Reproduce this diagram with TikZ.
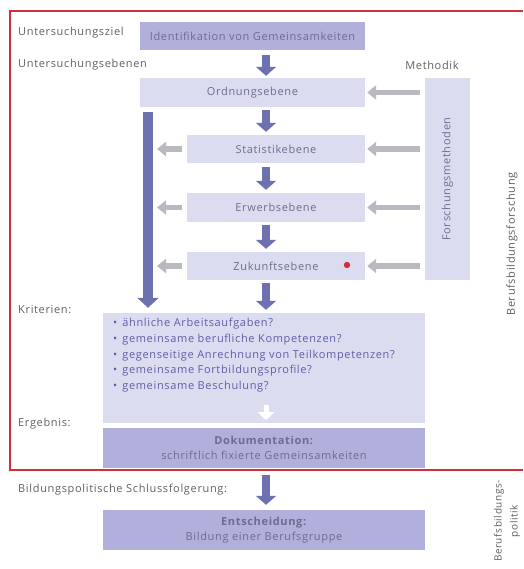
\documentclass[tikz,border=0pt]{standalone}
\usepackage{fontspec}
\setmainfont{Open Sans}[LetterSpace=6]
\usetikzlibrary{arrows.meta,calc}
\definecolor{boxlight}{HTML}{DCDCF0}
\definecolor{boxdark}{HTML}{B1AFDC}
\definecolor{boxtext}{HTML}{6E6C90}
\definecolor{crittext}{HTML}{5E5EA8}
\definecolor{labeltext}{HTML}{606060}
\definecolor{bluearr}{HTML}{6E71B0}
\definecolor{grayarr}{HTML}{B9B9C2}
\definecolor{framered}{HTML}{D0303A}
\begin{document}
\begin{tikzpicture}[x=1pt,y=-1pt,
  every node/.style={inner sep=0pt, font=\fontsize{11}{12}\selectfont},
  lightbox/.style={fill=boxlight, text=boxtext, minimum width=#1},
  lightbox/.default=225pt,
  darkbox/.style={fill=boxdark, text=boxtext},
  lbl/.style={anchor=west, text=labeltext},
  bluear/.style={draw=bluearr, line width=8pt, -{Triangle[width=20pt,length=9pt]}},
  grayar/.style={draw=grayarr, line width=5.5pt, -{Triangle[width=14pt,length=9pt]}},
]
\useasboundingbox (0,0) rectangle (523,569);
\fill[white] (0,0) rectangle (523,569);

% red frame
\draw[framered, line width=1.8pt] (523,11) -- (10,11) -- (10,470) -- (523,470);

% labels
\node[lbl] (l1) at (18,33) {Untersuchungsziel};
\node[lbl] (l2) at (18,65) {Untersuchungsebenen};
\node[text=labeltext] (l3) at (432,65) {Methodik};
\node[lbl] (l4) at (18,310) {Kriterien:};
\node[lbl] (l5) at (18,424) {Ergebnis:};
\node[lbl] (l6) at (18,490) {Bildungspolitische Schlussfolgerung:};

% boxes
\node[darkbox, minimum width=225pt, minimum height=28pt] (ident) at (252.5,36) {Identifikation von Gemeinsamkeiten};
\node[lightbox, minimum height=29pt] (ord) at (252.5,92.5) {Ordnungsebene};
\node[lightbox=178pt, minimum height=28pt] (stat) at (276,149) {Statistikebene};
\node[lightbox=178pt, minimum height=29pt] (erw) at (276,207.5) {Erwerbsebene};
\node[lightbox=178pt, minimum height=28pt] (zuk) at (276,266) {Zukunftsebene};
\node[fill=boxlight, minimum width=45pt, minimum height=202pt] (fm) at (447.5,179) {};
\node[rotate=90, text=boxtext] (fmt) at (fm.center) {Forschungsmethoden};
\fill[framered] (347,265) circle (3.2pt);

\node[fill=boxlight, minimum width=322pt, minimum height=110pt] (krit) at (264,368) {};
\node[anchor=north west, text=crittext, align=left, font=\fontsize{11}{15.7}\selectfont] (kt) at (113,318)
 {\textbullet\hspace{5pt}ähnliche Arbeitsaufgaben?\\
  \textbullet\hspace{5pt}gemeinsame berufliche Kompetenzen?\\
  \textbullet\hspace{5pt}gegenseitige Anrechnung von Teilkompetenzen?\\
  \textbullet\hspace{5pt}gemeinsame Fortbildungsprofile?\\
  \textbullet\hspace{5pt}gemeinsame Beschulung?};

\node[darkbox, minimum width=322pt, minimum height=40pt, align=center, font=\fontsize{11}{15}\selectfont] (dok) at (264,448)
 {\textbf{Dokumentation:}\\schriftlich fixierte Gemeinsamkeiten};
\node[darkbox, minimum width=322pt, minimum height=40pt, align=center, font=\fontsize{11}{15}\selectfont] (ent) at (264,530)
 {\textbf{Entscheidung:}\\Bildung einer Berufsgruppe};

% right side labels
\node[rotate=90, text=labeltext] (bf) at (512,244) {Berufsbildungsforschung};
\node[rotate=90, text=labeltext, align=center, font=\fontsize{10}{16}\selectfont] (bp) at (507,521) {Berufsbildungs-\\politik};

% blue down arrows
\coordinate (ax) at (266,0);
\draw[bluear] ([yshift=-5pt]ident.south -| ax) -- ([yshift=2pt]ord.north -| ax);
\draw[bluear] ([yshift=-3pt]ord.south -| ax) -- ([yshift=3pt]stat.north -| ax);
\draw[bluear] ([yshift=-4pt]stat.south -| ax) -- ([yshift=3pt]erw.north -| ax);
\draw[bluear] ([yshift=-3pt]erw.south -| ax) -- ([yshift=3pt]zuk.north -| ax);
\draw[bluear] ([yshift=-3pt]zuk.south -| ax) -- ([yshift=3pt]krit.north -| ax);
\draw[bluear] ([yshift=-7pt]dok.south -| ax) -- ([yshift=5pt]ent.north -| ax);

% white arrow inside criteria box
\draw[draw=white, line width=5pt, -{Triangle[width=16pt,length=8pt]}] ([yshift=18pt]krit.south -| ax) -- ([yshift=3pt]krit.south -| ax);

% left vertical bar
\coordinate (bartop) at (148,112);
\draw[draw=bluearr, line width=10pt, -{Triangle[width=21pt,length=10pt]}] (bartop) -- ([yshift=5pt]krit.north -| bartop);

% gray arrows from methods
\foreach \b in {ord,stat,erw,zuk}{
  \draw[grayar] ([xshift=-5pt]fm.west |- \b) -- ([xshift=2pt]\b.east);
}
\foreach \b in {stat,erw,zuk}{
  \draw[grayar] ([xshift=-5pt]\b.west) -- ([xshift=9pt]\b.west -| bartop);
}
\end{tikzpicture}
\end{document}
